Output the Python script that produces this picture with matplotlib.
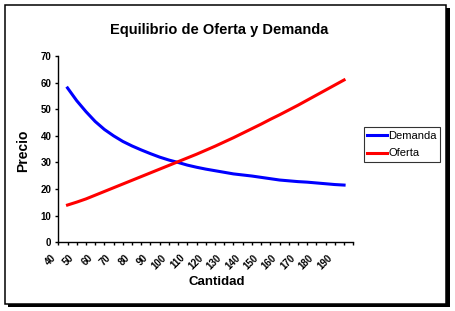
import matplotlib
matplotlib.use('Agg')
import matplotlib.pyplot as plt
import matplotlib.transforms as mtransforms
from matplotlib.patches import Rectangle

plt.rcParams['font.family'] = 'Liberation Sans'

# Datos
cantidad = [40, 45, 50, 55, 60, 65, 70, 75, 80, 85, 90, 95, 100, 105, 110, 115,
            120, 125, 130, 135, 140, 145, 150, 155, 160, 165, 170, 175, 180, 185, 190]
demanda = [58, 53.2, 49.1, 45.4, 42.4, 40, 37.9, 36.2, 34.7, 33.3, 32, 30.9, 30, 29,
           28.2, 27.5, 26.9, 26.3, 25.7, 25.3, 24.9, 24.4, 23.9, 23.4, 23.1, 22.8,
           22.6, 22.3, 22, 21.7, 21.5]
oferta = [14, 15.1, 16.3, 17.7, 19.1, 20.5, 21.9, 23.3, 24.7, 26.1, 27.5, 28.9, 30.3,
          31.7, 33.1, 34.6, 36.1, 37.7, 39.3, 41, 42.7, 44.4, 46.2, 47.9, 49.7, 51.5,
          53.4, 55.3, 57.2, 59.1, 61]
x_labels = [str(v) for v in range(40, 200, 10)]

W, H = 455, 311
fig = plt.figure(figsize=(W / 100, H / 100), dpi=100)

# marco con sombra
fig.patches.append(Rectangle((7.5, 4), 442, 299.5, transform=None,
                             facecolor='black', edgecolor='none', zorder=-2))
fig.patches.append(Rectangle((4.5, 7), 441.5, 299.5, transform=None,
                             facecolor='white', edgecolor='black', linewidth=1.1, zorder=-1))

ax = fig.add_axes([58.3 / W, 1 - 242.3 / H, 295 / W, 186.3 / H])
ax.set_facecolor('none')

ax.plot(cantidad, demanda, color='#0000FF', linewidth=2.2, label='Demanda')
ax.plot(cantidad, oferta, color='#FF0000', linewidth=2.2, label='Oferta')

ax.set_xlim(35, 195)
ax.set_ylim(0, 70)
ax.set_yticks(range(0, 71, 10))
ax.set_xticks(range(35, 200, 5))
ax.set_xticklabels([''] + [x_labels[i // 2] if i % 2 == 0 else '' for i in range(31)] + [''])

for s in ['top', 'right']:
    ax.spines[s].set_visible(False)
for s in ['left', 'bottom']:
    ax.spines[s].set_linewidth(1.0)

ax.tick_params(axis='y', direction='out', length=2, width=1, pad=3.0, labelsize=7)
ax.tick_params(axis='x', direction='out', length=2, width=1, pad=5.5, labelsize=7)
for lab in ax.get_yticklabels():
    lab.set_fontweight('bold')
offset = mtransforms.ScaledTranslation(-0.10, 0, fig.dpi_scale_trans)
for lab in ax.get_xticklabels():
    lab.set_fontweight('bold')
    lab.set_rotation(45)
    lab.set_ha('right')
    lab.set_va('top')
    lab.set_transform(lab.get_transform() + offset)

fig.text(219 / W, 1 - 30 / H, 'Equilibrio de Oferta y Demanda', ha='center', va='center',
         fontsize=10.5, fontweight='bold')
fig.text(23 / W, 1 - 151 / H, 'Precio', ha='center', va='center', rotation=90,
         fontsize=10, fontweight='bold')
fig.text(217 / W, 1 - 282 / H, 'Cantidad', ha='center', va='center',
         fontsize=9.5, fontweight='bold')

leg = fig.legend(loc='upper left', bbox_to_anchor=(364 / W, 1 - 127.3 / H),
                 fontsize=8, frameon=True, fancybox=False, borderaxespad=0,
                 handlelength=1.8, handletextpad=0.1, labelspacing=0.7, borderpad=0.3)
leg.get_frame().set_edgecolor('black')
leg.get_frame().set_linewidth(0.8)

fig.savefig('out.png', dpi=100)
